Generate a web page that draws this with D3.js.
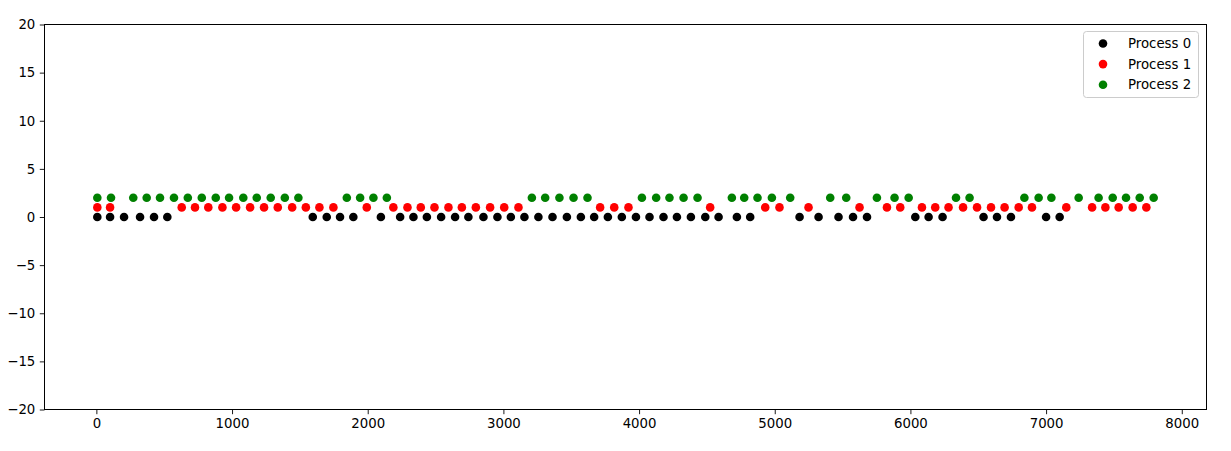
<!DOCTYPE html>
<html>
<head>
<meta charset="utf-8">
<script src="https://cdn.jsdelivr.net/npm/d3@7"></script>
<style>
  body { margin: 0; background: #fff; }
  svg text { font-family: "DejaVu Sans", sans-serif; }
</style>
</head>
<body>
<div id="chart"></div>
<script>
// x positions of each process' events (y is the process index)
const process0 = [7, 101, 204, 322, 425, 523, 1595, 1698, 1796, 1894, 2097, 2239, 2337, 2436, 2541, 2644, 2742, 2853, 2956, 3055, 3155, 3258, 3362, 3468, 3571, 3669, 3770, 3873, 3977, 4077, 4180, 4279, 4382, 4488, 4586, 4721, 4819, 5183, 5323, 5470, 5577, 5680, 6036, 6134, 6237, 6539, 6638, 6741, 7000, 7100];
const process1 = [7, 101, 629, 727, 825, 929, 1030, 1133, 1236, 1337, 1443, 1544, 1644, 1747, 1993, 2189, 2293, 2391, 2492, 2595, 2694, 2797, 2902, 3006, 3111, 3713, 3817, 3922, 4524, 4930, 5035, 5249, 5625, 5827, 5925, 6085, 6183, 6281, 6388, 6491, 6594, 6694, 6798, 6896, 7149, 7339, 7437, 7535, 7638, 7739];
const process2 = [7, 108, 272, 371, 469, 572, 674, 777, 880, 978, 1083, 1182, 1285, 1389, 1489, 1846, 1944, 2042, 2141, 3210, 3308, 3413, 3517, 3620, 4021, 4126, 4224, 4328, 4431, 4684, 4775, 4873, 4979, 5114, 5409, 5527, 5753, 5883, 5987, 6336, 6436, 6840, 6945, 7039, 7240, 7387, 7491, 7589, 7690, 7793];

const labels = ["Process 0", "Process 1", "Process 2"];
const colors = ["#000000", "#ff0000", "#008000"];
const xTicks = [0, 1000, 2000, 3000, 4000, 5000, 6000, 7000, 8000];
const yTicks = [-20, -15, -10, -5, 0, 5, 10, 15, 20];

const series = [process0, process1, process2];

const W = 1231, H = 451;
const margin = { top: 24.5, right: 24.5, bottom: 41.5, left: 44.5 };
const width = W - margin.left - margin.right;
const height = H - margin.top - margin.bottom;

const svg = d3.select("#chart").append("svg")
  .attr("width", W).attr("height", H);

const g = svg.append("g")
  .attr("transform", `translate(${margin.left},${margin.top})`);

// matplotlib-like 5% padding around the data
const all = series.flat();
const [lo, hi] = d3.extent(all);
const pad = (hi - lo) * 0.05;

const x = d3.scaleLinear().domain([lo - pad, hi + pad]).range([0, width]);
const y = d3.scaleLinear().domain([-20, 20]).range([height, 0]);

// points
series.forEach((vals, i) => {
  g.append("g").selectAll("circle")
    .data(vals)
    .join("circle")
    .attr("cx", (d) => x(d))
    .attr("cy", y(i))
    .attr("r", 4.3)
    .attr("fill", colors[i]);
});

// axes
const xAxis = g.append("g")
  .attr("transform", `translate(0,${height})`)
  .call(d3.axisBottom(x).tickValues(xTicks).tickFormat(d3.format("d")).tickSize(4.7).tickPadding(4.5));
const yAxis = g.append("g")
  .call(d3.axisLeft(y).tickValues(yTicks).tickFormat((d) => d < 0 ? "\u2212" + Math.abs(d) : d).tickSize(4.7).tickPadding(4.5));

[xAxis, yAxis].forEach((a) => {
  a.select(".domain").remove();
  a.selectAll("line").attr("stroke", "#000").attr("stroke-width", 0.9);
  a.selectAll("text").attr("fill", "#000").style("font-size", "13.3px");
});

// frame
g.append("rect")
  .attr("width", width).attr("height", height)
  .attr("fill", "none").attr("stroke", "#000").attr("stroke-width", 1);

// legend
const lg = svg.append("g").attr("transform", "translate(1083.5,31.5)");
lg.append("rect")
  .attr("width", 115).attr("height", 66)
  .attr("rx", 3).attr("ry", 3)
  .attr("fill", "#fff").attr("fill-opacity", 0.8)
  .attr("stroke", "#cccccc").attr("stroke-width", 1);
labels.forEach((lab, i) => {
  const row = lg.append("g").attr("transform", `translate(0,${12 + i * 20.6})`);
  row.append("circle").attr("cx", 19.5).attr("cy", 0).attr("r", 4.3).attr("fill", colors[i]);
  row.append("text").attr("x", 44.5).attr("y", 0).attr("dy", "0.35em")
    .style("font-size", "13.3px").attr("fill", "#000").text(lab);
});
</script>
</body>
</html>
